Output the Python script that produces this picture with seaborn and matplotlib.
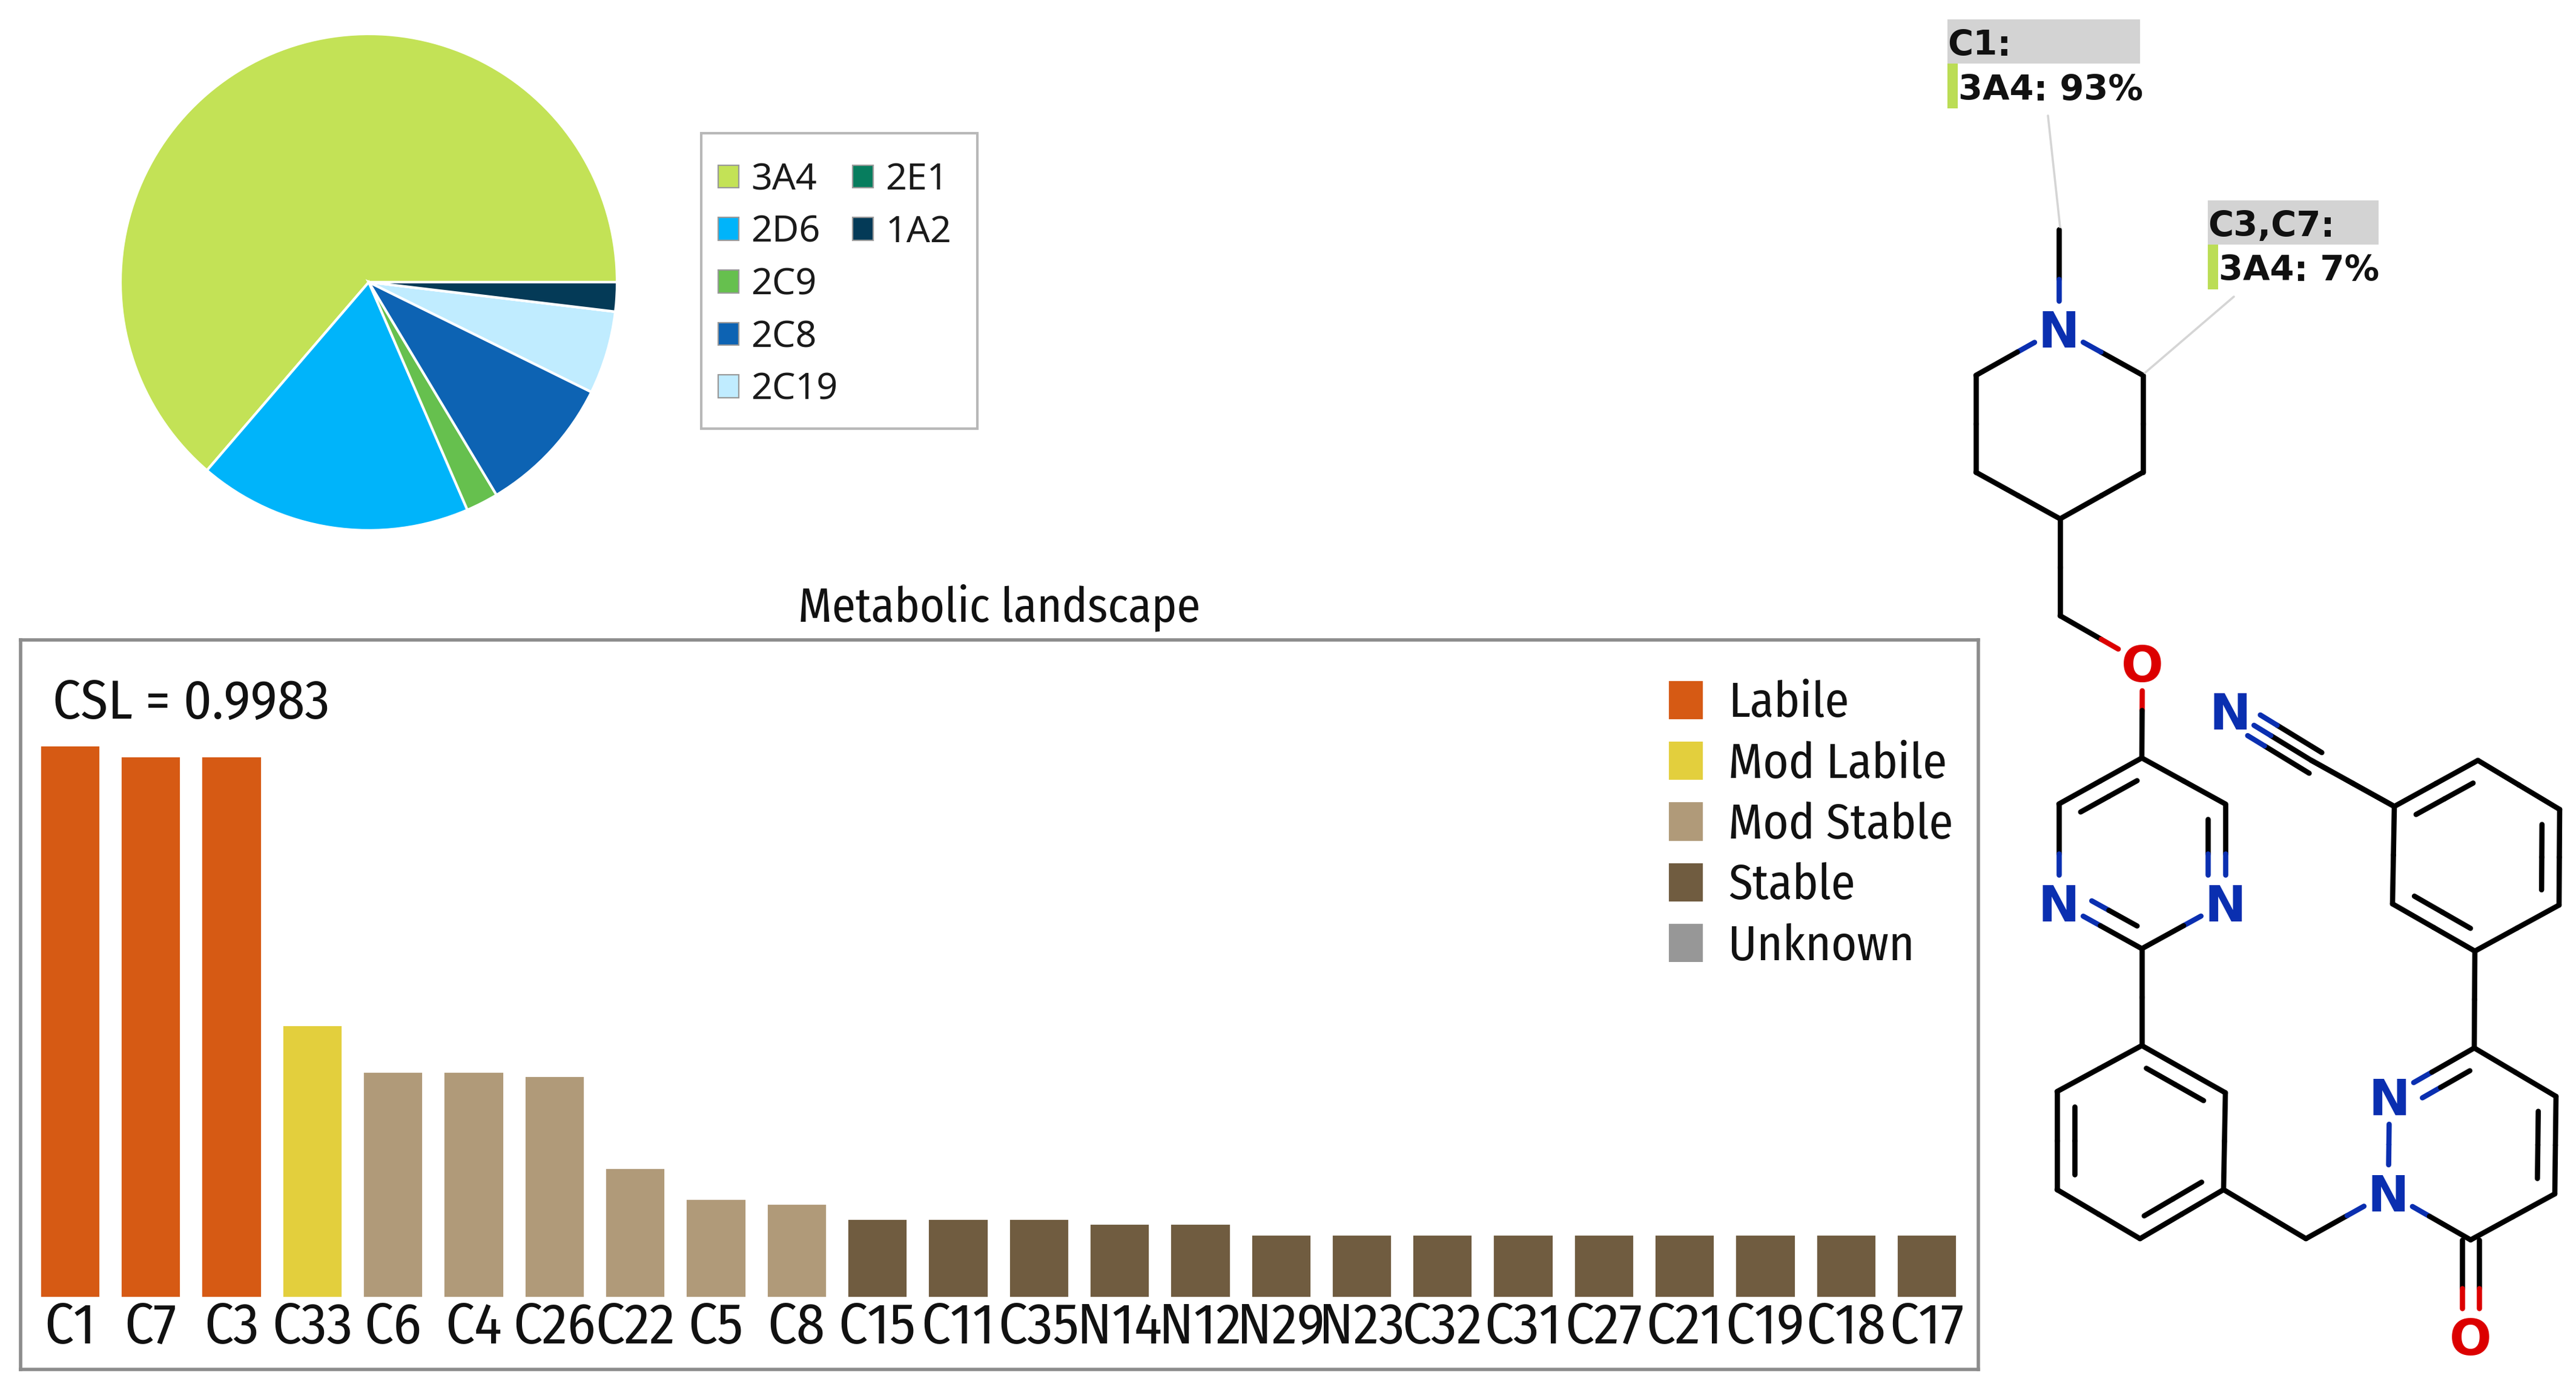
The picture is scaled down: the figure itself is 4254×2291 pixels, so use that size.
import numpy as np
import pandas as pd
import matplotlib
matplotlib.use("Agg")
import matplotlib.pyplot as plt
from matplotlib.patches import Patch, Rectangle
import seaborn as sns

W, H = 4254, 2291
DPI = 200

# pie
isoforms = ["3A4", "2D6", "2C9", "2C8", "2C19", "2E1", "1A2"]
isoform_share = [63.7, 17.8, 2.1, 9.1, 5.4, 0.0, 1.9]
isoform_colors = ["#C3E256", "#00B4FA", "#66C04E", "#0D63B3", "#C0ECFF", "#077D5E", "#043A57"]

# bars
sites = ["C1", "C7", "C3", "C33", "C6", "C4", "C26", "C22", "C5", "C8", "C15", "C11",
         "C35", "N14", "N12", "N29", "N23", "C32", "C31", "C27", "C21", "C19", "C18", "C17"]
lability = [1.003, 0.983, 0.983, 0.495, 0.41, 0.41, 0.403, 0.235, 0.179, 0.17, 0.143, 0.143,
            0.143, 0.134, 0.134, 0.114, 0.114, 0.114, 0.114, 0.114, 0.114, 0.114, 0.114, 0.114]
stability = ["Labile"] * 3 + ["Mod Labile"] + ["Mod Stable"] * 6 + ["Stable"] * 14
stability_levels = ["Labile", "Mod Labile", "Mod Stable", "Stable", "Unknown"]
stability_colors = ["#D65A14", "#E3CF3D", "#B09A79", "#705C40", "#979797"]

# molecule, in picture pixels
atom_names = ["Me", "N1", "a1", "a2", "a3", "a4", "a5", "b1", "O1", "c1", "c2", "c3", "N2", "N3", "c4",
              "d1", "d2", "d3", "d4", "d5", "d6", "e1", "N4", "N5", "f1", "f2", "f3", "f4", "O2",
              "g1", "g2", "g3", "g4", "g5", "g6", "h1", "N6"]
atom_x = [3400, 3400, 3263, 3263, 3402, 3539, 3539, 3402, 3538, 3537, 3400, 3675, 3400, 3675, 3537,
          3537, 3675, 3672, 3534, 3397, 3397, 3808, 3944, 3946, 4086, 4221, 4219, 4080, 4080,
          4087, 4226, 4227, 4092, 3954, 3951, 3817, 3683]
atom_y = [379, 543, 620, 780, 857, 780, 620, 1017, 1095, 1252, 1328, 1328, 1491, 1491, 1567,
          1727, 1805, 1965, 2046, 1965, 1803, 2046, 1970, 1811, 1731, 1811, 1972, 2048, 2207,
          1571, 1495, 1337, 1256, 1332, 1493, 1256, 1174]
single_bonds = [("Me", "N1"), ("N1", "a1"), ("a1", "a2"), ("a2", "a3"), ("a3", "a4"), ("a4", "a5"), ("a5", "N1"),
                ("a3", "b1"), ("b1", "O1"), ("O1", "c1"), ("c1", "c3"), ("c2", "N2"), ("N3", "c4"), ("c4", "d1"),
                ("d1", "d6"), ("d2", "d3"), ("d4", "d5"), ("d3", "e1"), ("e1", "N4"), ("N4", "N5"), ("N4", "f4"),
                ("f1", "f2"), ("f3", "f4"), ("f1", "g1"), ("g1", "g2"), ("g3", "g4"), ("g5", "g6"), ("g5", "h1")]
double_bonds = [("c1", "c2", "c4"), ("c3", "N3", "c1"), ("N2", "c4", "c1"),
                ("d1", "d2", "d4"), ("d3", "d4", "d1"), ("d5", "d6", "d2"),
                ("N5", "f1", "f3"), ("f2", "f3", "N5"),
                ("g1", "g6", "g3"), ("g2", "g3", "g6"), ("g4", "g5", "g1")]

callout_titles = ["C1:", "C3,C7:"]
callout_texts = ["3A4: 93%", "3A4: 7%"]

sns.set_theme(style="white")
plt.rcParams["font.family"] = ["Fira Sans Condensed", "Liberation Sans", "DejaVu Sans"]

BLUE = "#0A2FB0"
RED = "#DC0000"
elem_color = {"N": BLUE, "O": RED}
LINE_W = 3.1


def px_rect(x0, y0, x1, y1):
    return [x0 / W, 1 - y1 / H, (x1 - x0) / W, (y1 - y0) / H]


def draw_pie(fig):
    ax = fig.add_axes(px_rect(199, 56, 1019, 876))
    ax.pie(isoform_share, colors=isoform_colors, startangle=0, radius=1,
           wedgeprops={"edgecolor": "white", "linewidth": 1.5, "clip_on": False})
    ax.set_xlim(-1, 1)
    ax.set_ylim(-1, 1)
    fig.add_artist(Rectangle((1158 / W, 1 - 708 / H), 456 / W, 488 / H, transform=fig.transFigure,
                             facecolor="none", edgecolor="#B8B8B8", linewidth=1.5, zorder=-1))
    # five rows in the first column, so the second one needs blanks
    handles = [Patch(facecolor=c, edgecolor="#999999", linewidth=0.8) for c in isoform_colors]
    labels = list(isoforms)
    for i in range(3):
        handles.append(Patch(alpha=0))
        labels.append("")
    leg = ax.legend(handles, labels, ncols=2, loc="upper left",
                    bbox_to_anchor=(1186 / W, 1 - 267 / H), bbox_transform=fig.transFigure,
                    borderaxespad=0, borderpad=0, prop={"family": "Noto Sans", "size": 22},
                    handlelength=0.55, handleheight=0.57, handletextpad=0.34, columnspacing=0.40,
                    labelspacing=0.42, frameon=False)
    for text in leg.get_texts():
        text.set_color("#1A1A1A")


def draw_bars(fig):
    ax = fig.add_axes(px_rect(34, 1057, 3267, 2262))
    df = pd.DataFrame({"site": sites, "lability": lability, "stability": stability})
    palette = dict(zip(stability_levels, stability_colors))
    sns.barplot(data=df, x="site", y="lability", hue="stability", dodge=False, width=0.745,
                palette=palette, saturation=1, legend=False, ax=ax)
    ax.set_xlim(-0.611, 23.64)
    ax.set_ylim(-0.131, 1.1947)
    ax.set_xlabel("")
    ax.set_ylabel("")
    ax.set_yticks([])
    ax.tick_params(axis="x", length=0, pad=-41, labelsize=34, labelcolor="#111111")
    for s in ax.spines.values():
        s.set_visible(True)
        s.set_color("#8C8C8C")
        s.set_linewidth(2)
    ax.set_title("Metabolic landscape", fontsize=28.3, color="#111111", pad=11)
    ax.text(0.0165, 0.913, "CSL = 0.9983", transform=ax.transAxes, fontsize=32.8,
            va="center", color="#111111")
    handles = [Patch(facecolor=c, edgecolor="none") for c in stability_colors]
    leg = ax.legend(handles, stability_levels, loc="upper left", bbox_to_anchor=(0.842, 0.945),
                    frameon=False, fontsize=29, handlelength=0.69, handleheight=0.83,
                    handletextpad=0.53, labelspacing=0.276, borderaxespad=0, borderpad=0)
    for text in leg.get_texts():
        text.set_color("#111111")


def split_line(ax, p0, p1, c0, c1, mid):
    ax.plot([p0[0], mid[0]], [p0[1], mid[1]], color=c0, lw=LINE_W, solid_capstyle="round")
    ax.plot([mid[0], p1[0]], [mid[1], p1[1]], color=c1, lw=LINE_W, solid_capstyle="round")


def bond_line(ax, a, b, pos, off=0.0, trim_c=0.0):
    pa, pb = np.array(pos[a], float), np.array(pos[b], float)
    u = (pb - pa) / np.linalg.norm(pb - pa)
    n = np.array([-u[1], u[0]])
    ea, eb = a[0] if a[0] in "NO" else "C", b[0] if b[0] in "NO" else "C"
    gap = {"C": 0.0, "N": 46.0, "O": 46.0}
    start = pa + u * (gap[ea] if ea != "C" else trim_c) + n * off
    end = pb - u * (gap[eb] if eb != "C" else trim_c) + n * off
    mid = (pa + pb) / 2 + n * off
    split_line(ax, start, end, elem_color.get(ea, "black"), elem_color.get(eb, "black"), mid)


def draw_molecule(fig):
    ax = fig.add_axes([0, 0, 1, 1], zorder=5)
    ax.set_xlim(0, W)
    ax.set_ylim(H, 0)
    ax.axis("off")
    pos = {n: (x, y) for n, x, y in zip(atom_names, atom_x, atom_y)}

    for a, b in single_bonds:
        bond_line(ax, a, b, pos)
    for a, b, toward in double_bonds:
        bond_line(ax, a, b, pos)
        pa, pb, pc = np.array(pos[a], float), np.array(pos[b], float), np.array(pos[toward], float)
        u = (pb - pa) / np.linalg.norm(pb - pa)
        n = np.array([-u[1], u[0]])
        side = 1 if np.dot(pc - pa, n) > 0 else -1
        bond_line(ax, a, b, pos, off=29 * side, trim_c=25)
    # carbonyl and nitrile
    bond_line(ax, "f4", "O2", pos, off=14)
    bond_line(ax, "f4", "O2", pos, off=-14)
    bond_line(ax, "g5", "h1", pos)
    bond_line(ax, "h1", "N6", pos)
    bond_line(ax, "h1", "N6", pos, off=20, trim_c=-8)
    bond_line(ax, "h1", "N6", pos, off=-20, trim_c=-8)

    for name, x, y in zip(atom_names, atom_x, atom_y):
        if name[0] in "NO" and name != "N":
            ax.text(x, y, name[0], color=elem_color[name[0]], family="DejaVu Sans", weight="bold",
                    fontsize=29.5, ha="center", va="center_baseline")

    # callouts
    boxes = [(3216, 32, 3534, 105), (3646, 331, 3928, 404)]
    leaders = [((3382, 191), (3402, 375)), ((3689, 490), (3542, 616))]
    for box, title, txt, lead in zip(boxes, callout_titles, callout_texts, leaders):
        x0, y0, x1, y1 = box
        ax.add_patch(Rectangle((x0, y0), x1 - x0, y1 - y0, facecolor="#D3D3D3", edgecolor="none"))
        ax.add_patch(Rectangle((x0, y1), 17, 74, facecolor="#BBDD55", edgecolor="none"))
        ax.text(x0, (y0 + y1) / 2 + 7, title, family="DejaVu Sans", weight="bold", fontsize=20.7,
                color="#111111", va="center")
        ax.text(x0 + 18, y1 + 44, txt, family="DejaVu Sans", weight="bold", fontsize=20.7,
                color="#111111", va="center")
        ax.plot([lead[0][0], lead[1][0]], [lead[0][1], lead[1][1]], color="#D5D5D5", lw=1.3)


fig = plt.figure(figsize=(W / DPI, H / DPI), dpi=DPI, facecolor="white")
draw_pie(fig)
draw_bars(fig)
draw_molecule(fig)
fig.savefig("out.png", dpi=DPI)
